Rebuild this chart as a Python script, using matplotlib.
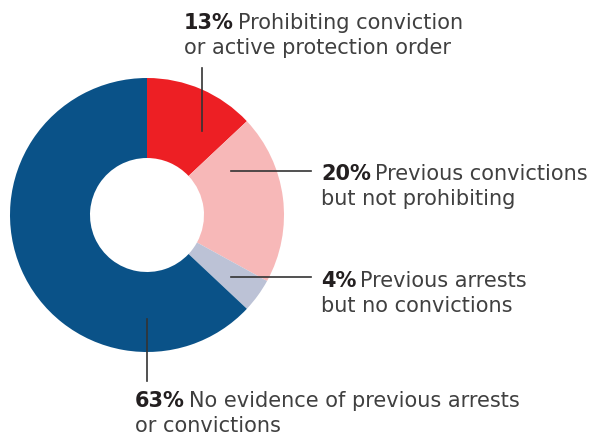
import matplotlib
matplotlib.use("Agg")
import matplotlib.pyplot as plt

# Données
shares = [13, 20, 4, 63]
bold_parts = ["13%", "20%", "4%", "63%"]
first_lines = ["Prohibiting conviction", "Previous convictions", "Previous arrests",
               "No evidence of previous arrests"]
second_lines = ["or active protection order", "but not prohibiting", "but no convictions",
                "or convictions"]
colors = ["#ED1F24", "#F7B8B8", "#BCC2D6", "#0A5288"]

W, H = 605, 437
fig = plt.figure(figsize=(W / 100, H / 100), dpi=100)
ax = fig.add_axes([0, 0, 1, 1])

def py(y):
    # coordonnées pixel (origine en haut) -> coordonnées de l'axe
    return H - y

ax.pie(shares, colors=colors, startangle=90, counterclock=False,
       center=(147, py(215)), radius=137,
       wedgeprops=dict(width=80, linewidth=0))
ax.set_xlim(0, W)
ax.set_ylim(0, H)
ax.set_aspect("equal")
ax.axis("off")

# Traits de rappel
line_kw = dict(color="#333333", lw=1.2)
ax.plot([202, 202], [py(68), py(131)], **line_kw)
ax.plot([231, 311], [py(171), py(171)], **line_kw)
ax.plot([231, 311], [py(277), py(277)], **line_kw)
ax.plot([147, 147], [py(319), py(381)], **line_kw)

# Étiquettes
font = "DejaVu Sans"
fs = 15
bold_color = "#231F20"
txt_color = "#404040"
label_pos = [(184, 29), (321, 180), (321, 287), (135, 407)]
spacing = 25

fig.canvas.draw()
renderer = fig.canvas.get_renderer()
for (x, y), b, l1, l2 in zip(label_pos, bold_parts, first_lines, second_lines):
    tb = ax.text(x, py(y), b, fontsize=fs, fontweight="bold", family=font,
                 color=bold_color, ha="left", va="baseline")
    wb = tb.get_window_extent(renderer).width
    ax.text(x + wb + 4, py(y), l1, fontsize=fs, family=font, color=txt_color,
            ha="left", va="baseline")
    ax.text(x, py(y + spacing), l2, fontsize=fs, family=font, color=txt_color,
            ha="left", va="baseline")

fig.savefig("out.png", dpi=100)
